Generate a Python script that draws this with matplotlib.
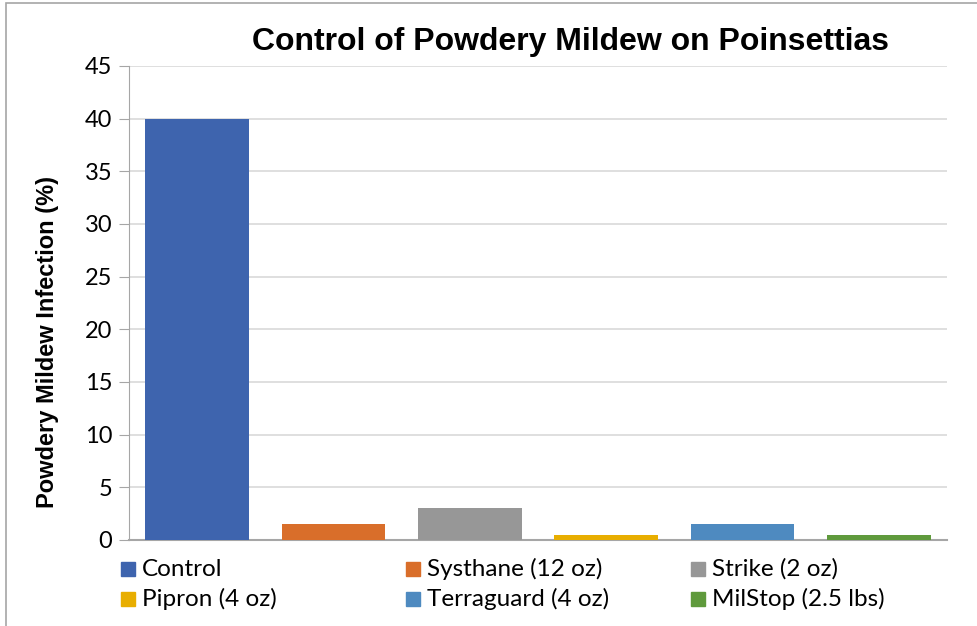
import matplotlib
matplotlib.use("Agg")
import matplotlib.pyplot as plt
from matplotlib.patches import Rectangle

treatments = ["Control", "Systhane (12 oz)", "Strike (2 oz)",
              "Pipron (4 oz)", "Terraguard (4 oz)", "MilStop (2.5 lbs)"]
infection = [40, 1.5, 3, 0.5, 1.5, 0.5]
colors = ["#3E64AE", "#D96E2A", "#979797", "#E8AE00", "#4E8AC0", "#5F9A3C"]
yticks = [0, 5, 10, 15, 20, 25, 30, 35, 40, 45]

W, H = 977, 626
fig = plt.figure(figsize=(W / 100, H / 100), dpi=100)
ax = fig.add_axes([129 / W, 1 - 540 / H, (947 - 129) / W, (540 - 66) / H])

x = list(range(len(treatments)))
ax.bar(x, infection, width=0.76, color=colors, zorder=3)
ax.set_xlim(-0.5, len(treatments) - 0.5)
ax.set_ylim(0, 45)
ax.set_yticks(yticks)
ax.set_xticks([])
ax.grid(axis="y", color="#D9D9D9", linewidth=1.2, zorder=0)
for s in ["top", "right"]:
    ax.spines[s].set_visible(False)
ax.spines["left"].set_color("#A6A6A6")
ax.spines["bottom"].set_color("#A6A6A6")
ax.spines["bottom"].set_linewidth(1.5)
ax.tick_params(axis="y", length=7, color="#A6A6A6", labelsize=17, pad=5)
for lab in ax.get_yticklabels():
    lab.set_family("Lato")

fig.text(48 / W, 1 - 342 / H, "Powdery Mildew Infection (%)", rotation=90,
         ha="center", va="center", fontsize=17, fontweight="bold",
         family="Liberation Sans")
fig.text(570 / W, 1 - 42 / H, "Control of Powdery Mildew on Poinsettias",
         ha="center", va="center", fontsize=23, fontweight="bold",
         family="Liberation Sans")

# legend, laid out row by row in three columns
for i, (name, c) in enumerate(zip(treatments, colors)):
    col, row = i % 3, i // 3
    x0 = 121 + col * 285
    y0 = 569 + row * 30
    fig.patches.append(Rectangle((x0 / W, 1 - (y0 + 7) / H), 14 / W, 14 / H,
                                 transform=fig.transFigure, color=c))
    fig.text((x0 + 21) / W, 1 - y0 / H, name, ha="left", va="center",
             fontsize=17.5, family="Lato")

fig.patches.append(Rectangle((6 / W, -0.1), 1.2, 1 - 3 / H + 0.1,
                             transform=fig.transFigure, fill=False,
                             edgecolor="#A6A6A6", linewidth=1.2))

fig.savefig("out.png", dpi=100)
